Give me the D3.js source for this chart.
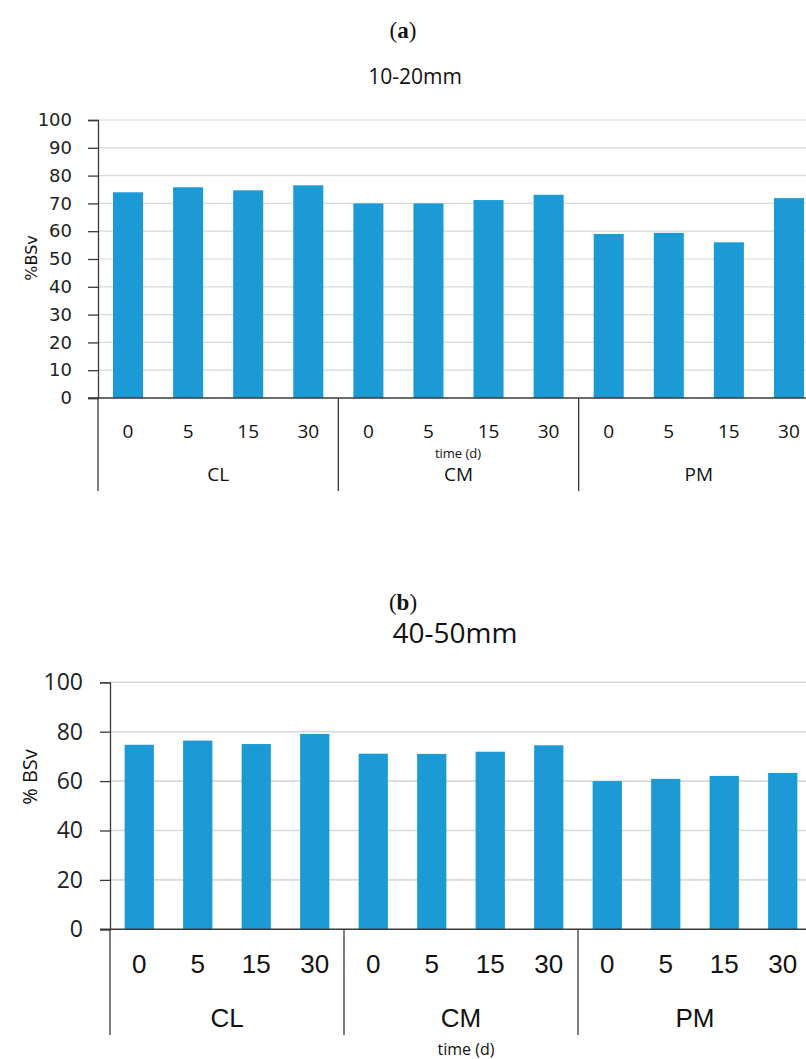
<!DOCTYPE html>
<html><head><meta charset="utf-8">
<script src="https://cdn.jsdelivr.net/npm/d3@7"></script>
<style>body{margin:0;background:#fff}svg{display:block}</style>
</head><body>
<svg id="c" width="806" height="1059"></svg>
<script>
const groups = ["CL", "CM", "PM"];
const times = ["0", "5", "15", "30"];
const valuesA = [74.0, 75.8, 74.7, 76.5, 70.0, 70.0, 71.2, 73.1, 59.0, 59.4, 56.0, 71.9];
const valuesB = [74.7, 76.4, 75.0, 79.1, 71.1, 71.0, 71.9, 74.5, 60.0, 60.9, 62.1, 63.3];
const ticksA = [0, 10, 20, 30, 40, 50, 60, 70, 80, 90, 100];
const ticksB = [0, 20, 40, 60, 80, 100];

const svg = d3.select("#c");
const BAR = "#1b9ad6";

function panel(cfg, values, ticks) {
  const g = svg.append("g");
  const keys = [];
  groups.forEach(gr => times.forEach(t => keys.push(gr + "|" + t)));
  const x = d3.scaleBand().domain(keys).range([cfg.x0, cfg.x1]).paddingInner(0.5).paddingOuter(0.25);
  const y = d3.scaleLinear().domain([0, 100]).range([cfg.y0, cfg.y1]);
  // gridlines
  g.selectAll("line.grid").data(ticks.filter(t => t > 0)).join("line")
    .attr("x1", cfg.x0).attr("x2", 806).attr("y1", d => y(d)).attr("y2", d => y(d))
    .attr("stroke", "#d9d9d9").attr("stroke-width", cfg.gridW);
  // bars
  g.selectAll("rect").data(values).join("rect")
    .attr("x", (d, i) => x(keys[i])).attr("width", x.bandwidth())
    .attr("y", d => y(d)).attr("height", d => y(0) - y(d))
    .attr("fill", BAR);
  // y axis
  const ya = d3.axisLeft(y).tickValues(ticks).tickSize(cfg.tick).tickPadding(cfg.tickPad);
  const yg = g.append("g").attr("transform", `translate(${cfg.x0},0)`).call(ya);
  yg.select(".domain").attr("stroke", "#3a3a3a").attr("stroke-width", 1.3);
  yg.selectAll(".tick line").attr("stroke", "#3a3a3a").attr("stroke-width", 1.3);
  yg.selectAll("text").attr("font-family", cfg.yFont).attr("font-size", cfg.yFontSize).attr("fill", "#222");
  // x axis line
  g.append("line").attr("x1", cfg.x0 - cfg.tick).attr("x2", 806).attr("y1", y(0)).attr("y2", y(0))
    .attr("stroke", "#3a3a3a").attr("stroke-width", 1.5);
  // dividers
  const step = x.step();
  [0, 1, 2, 3].forEach(k => {
    const xx = cfg.x0 + k * 4 * step;
    g.append("line").attr("x1", xx).attr("x2", xx).attr("y1", y(0)).attr("y2", cfg.divEnd)
      .attr("stroke", "#3a3a3a").attr("stroke-width", 1.3);
  });
  // time labels
  g.selectAll("text.t").data(keys).join("text").attr("class", "t")
    .attr("x", d => x(d) + x.bandwidth() / 2).attr("y", cfg.tLabelY)
    .attr("text-anchor", "middle").attr("dominant-baseline", "central")
    .attr("font-family", cfg.xFont).attr("font-size", cfg.xFontSize).attr("fill", "#111")
    .text(d => d.split("|")[1]);
  // group labels
  g.selectAll("text.gr").data(groups).join("text").attr("class", "gr")
    .attr("x", (d, i) => cfg.x0 + (i * 4 + 2) * step).attr("y", cfg.gLabelY)
    .attr("text-anchor", "middle").attr("dominant-baseline", "central")
    .attr("font-family", cfg.xFont).attr("font-size", cfg.gFontSize).attr("fill", "#111")
    .text(d => d);
  // axis title x
  g.append("text").attr("x", cfg.timeX).attr("y", cfg.timeY)
    .attr("text-anchor", "middle").attr("dominant-baseline", "central")
    .attr("font-family", cfg.timeFont).attr("font-size", cfg.timeSize).attr("fill", "#111")
    .text("time (d)");
  // y title
  g.append("text").attr("transform", `translate(${cfg.ylX},${cfg.ylY}) rotate(-90)`)
    .attr("text-anchor", "middle").attr("dominant-baseline", "central")
    .attr("font-family", cfg.ylFont).attr("font-size", cfg.ylSize).attr("fill", "#111")
    .text(cfg.ylText);
  // chart title
  g.append("text").attr("x", cfg.titleX).attr("y", cfg.titleY)
    .attr("text-anchor", "middle").attr("dominant-baseline", "central")
    .attr("font-family", "Open Sans").attr("font-size", cfg.titleSize).attr("fill", "#111")
    .text(cfg.title);
  // panel letter
  const lt = g.append("text").attr("x", 403).attr("y", cfg.letterY)
    .attr("text-anchor", "middle").attr("dominant-baseline", "central")
    .attr("font-family", "Liberation Serif").attr("font-size", 23).attr("fill", "#111");
  lt.append("tspan").text("(");
  lt.append("tspan").attr("font-weight", "bold").text(cfg.letter);
  lt.append("tspan").text(")");
}

panel({
  x0: 98, x1: 819, y0: 398, y1: 120, gridW: 1.2, tick: 10, tickPad: 16,
  yFont: "DejaVu Sans", yFontSize: 18,
  xFont: "Open Sans", xFontSize: 19, gFontSize: 19, tLabelY: 431, gLabelY: 474, divEnd: 491,
  timeX: 458, timeY: 453, timeFont: "Open Sans", timeSize: 13,
  ylX: 31, ylY: 258, ylFont: "DejaVu Sans", ylSize: 16, ylText: "%BSv",
  title: "10-20mm", titleX: 415, titleY: 76, titleSize: 21, letter: "a", letterY: 30
}, valuesA, ticksA);

panel({
  x0: 110, x1: 812, y0: 929.3, y1: 682.3, gridW: 1.6, tick: 10, tickPad: 17,
  yFont: "Open Sans", yFontSize: 23,
  xFont: "Liberation Sans", xFontSize: 26, gFontSize: 26,
  tLabelY: 964, gLabelY: 1018, divEnd: 1035,
  timeX: 466, timeY: 1049, timeFont: "Open Sans", timeSize: 16,
  ylX: 29, ylY: 777, ylFont: "Open Sans", ylSize: 20, ylText: "% BSv",
  title: "40-50mm", titleX: 455, titleY: 632, titleSize: 28, letter: "b", letterY: 602
}, valuesB, ticksB);
</script>
</body></html>
